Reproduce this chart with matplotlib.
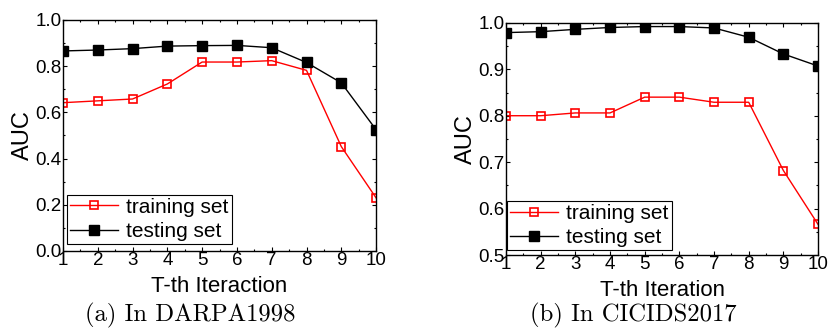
import matplotlib
matplotlib.use("Agg")
import matplotlib.pyplot as plt
from matplotlib.ticker import MultipleLocator

iters = [1, 2, 3, 4, 5, 6, 7, 8, 9, 10]

# (a) DARPA1998
darpa_train = [0.642, 0.650, 0.658, 0.723, 0.818, 0.818, 0.824, 0.782, 0.452, 0.230]
darpa_test = [0.866, 0.870, 0.876, 0.887, 0.889, 0.890, 0.880, 0.816, 0.728, 0.525]

# (b) CICIDS2017
cic_train = [0.800, 0.800, 0.806, 0.806, 0.840, 0.840, 0.829, 0.829, 0.682, 0.566]
cic_test = [0.979, 0.981, 0.986, 0.990, 0.992, 0.992, 0.989, 0.969, 0.933, 0.907]

captions = ["(a) In DARPA1998", "(b) In CICIDS2017"]
xlabels = ["T-th Iteraction", "T-th Iteration"]

plt.rcParams['font.family'] = ['Liberation Sans', 'DejaVu Sans']

fig = plt.figure(figsize=(8.35, 3.36), dpi=100)
ax1 = fig.add_axes([0.0754, 0.253, 0.375, 0.6875])
ax2 = fig.add_axes([0.606, 0.241, 0.3737, 0.691])


def draw(ax, train, test, ylim, major, leg_anchor, xlabel):
    ax.plot(iters, train, color='red', lw=1, marker='s', ms=6,
            mfc='none', mec='red', mew=1.2, label='training set')
    ax.plot(iters, test, color='black', lw=1, marker='s', ms=7,
            mfc='black', mec='black', label='testing set')
    ax.set_xlim(1, 10)
    ax.set_ylim(*ylim)
    ax.set_xticks(iters)
    ax.yaxis.set_major_locator(MultipleLocator(major))
    ax.yaxis.set_major_formatter(matplotlib.ticker.FormatStrFormatter('%.1f'))
    ax.xaxis.set_minor_locator(MultipleLocator(0.5))
    ax.yaxis.set_minor_locator(MultipleLocator(major / 2))
    ax.tick_params(which='both', direction='in', top=True, right=True,
                   labelsize=13.5, pad=1, width=0.8)
    ax.tick_params(which='major', length=3)
    ax.tick_params(which='minor', length=1.5)
    for s in ax.spines.values():
        s.set_linewidth(1)
    ax.set_xlabel(xlabel, fontsize=16, labelpad=5)
    ax.set_ylabel('AUC', fontsize=17, labelpad=1)
    leg = ax.legend(loc='lower left', bbox_to_anchor=leg_anchor, fontsize=15,
                    fancybox=False, edgecolor='black', framealpha=1,
                    borderpad=0.15, handlelength=2.3, handletextpad=0.4,
                    labelspacing=0.25, borderaxespad=0)
    leg.get_frame().set_linewidth(0.8)


draw(ax1, darpa_train, darpa_test, (0.0, 1.0), 0.2, (0.013, 0.03), xlabels[0])
draw(ax2, cic_train, cic_test, (0.5, 1.0), 0.1, (0.003, 0.02), xlabels[1])

fig.text(0.2275, 0.025, captions[0], fontsize=17.8,
         family=['cmr10', 'DejaVu Serif'], ha='center', va='bottom')
fig.text(0.758, 0.025, captions[1], fontsize=17.8,
         family=['cmr10', 'DejaVu Serif'], ha='center', va='bottom')

fig.savefig('out.png', dpi=100)
